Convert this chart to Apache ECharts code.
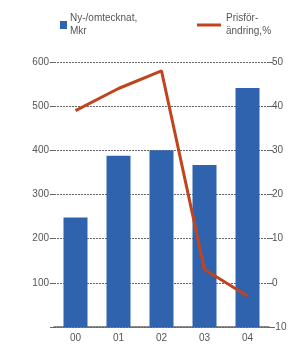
<!DOCTYPE html>
<html>
<head>
<meta charset="utf-8">
<script src="https://cdn.jsdelivr.net/npm/echarts@6/dist/echarts.min.js"></script>
<style>
html,body{margin:0;padding:0;background:#fff;}
#chart{width:295px;height:347px;}
</style>
</head>
<body>
<div id="chart"></div>
<script>
var years = ['00', '01', '02', '03', '04'];
var nytecknat = [248, 388, 400, 367, 541];
var prisforandring = [39, 44, 48, 3, -3];

var chart = echarts.init(document.getElementById('chart'));
var txt = '#555';
var fnt = 'Liberation Sans Narrow, Liberation Sans, sans-serif';

chart.setOption({
	animation: false,
	legend: [
		{
			left: 55, top: 7,
			itemWidth: 7, itemHeight: 8,
			itemGap: 4,
			data: [{name: 'Ny-/omtecknat,\nMkr', icon: 'rect'}],
			textStyle: {color: txt, fontSize: 10, fontFamily: fnt, lineHeight: 13, padding: [0, 0, 0, -2]}
		},
		{
			left: 192, top: 7,
			itemWidth: 24, itemHeight: 3,
			data: [{name: 'Prisför-\nändring,%', icon: 'rect'}],
			textStyle: {color: txt, fontSize: 10, fontFamily: fnt, lineHeight: 13}
		}
	],
	grid: {left: 54, right: 26, top: 62, bottom: 20},
	xAxis: {
		type: 'category',
		data: years,
		axisTick: {show: false},
		axisLine: {lineStyle: {color: '#666', width: 1.5}},
		axisLabel: {color: txt, fontSize: 10, fontFamily: fnt, margin: 6}
	},
	yAxis: [
		{
			type: 'value', min: 0, max: 600, interval: 100,
			axisLine: {show: false},
			axisTick: {show: true, length: 4, lineStyle: {color: '#666'}},
			splitLine: {lineStyle: {color: '#666', type: [2, 1], width: 1}},
			axisLabel: {color: txt, fontSize: 10, fontFamily: fnt, margin: 5,
				formatter: function(v){ return v === 0 ? '' : v; }}
		},
		{
			type: 'value', min: -10, max: 50, interval: 10,
			axisLine: {show: false},
			axisTick: {show: true, length: 4, lineStyle: {color: '#666'}},
			splitLine: {show: false},
			axisLabel: {color: txt, fontSize: 10, fontFamily: fnt, margin: 3}
		}
	],
	series: [
		{
			name: 'Ny-/omtecknat,\nMkr',
			type: 'bar',
			data: nytecknat,
			barWidth: 24,
			itemStyle: {color: '#2f63ad'}
		},
		{
			name: 'Prisför-\nändring,%',
			type: 'line',
			yAxisIndex: 1,
			data: prisforandring,
			symbol: 'none',
			z: 5,
			lineStyle: {color: '#c0451f', width: 3},
			itemStyle: {color: '#c0451f'}
		}
	]
});
</script>
</body>
</html>
